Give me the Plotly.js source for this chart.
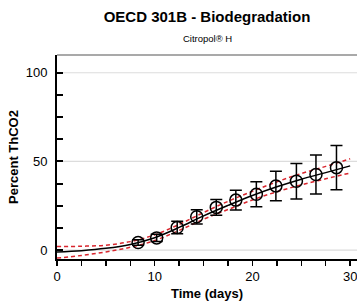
<!DOCTYPE html>
<html>
<head>
<meta charset="utf-8">
<script src="https://cdn.plot.ly/plotly-3.0.1.min.js"></script>
<style>html,body{margin:0;padding:0;background:#fff;}#chart{width:357px;height:303px;}</style>
</head>
<body>
<div id="chart"></div>
<script>
// Measured data (days, % ThCO2, SD)
const days = [8.3, 10.2, 12.3, 14.3, 16.3, 18.3, 20.4, 22.4, 24.5, 26.5, 28.6];
const pctThCO2 = [4.3, 6.9, 12.8, 18.8, 24.1, 28.2, 31.5, 36.2, 38.8, 42.6, 46.5];
const errSD = [1.5, 2, 3.5, 4, 4.4, 5.6, 7, 8.3, 10, 11, 12.5];

// Fitted curve and confidence band
const fitDays = [0, 2.5, 5, 7.5, 10, 12.5, 15, 17.5, 20, 22.5, 25, 27.5, 30];
const fitMid = [-1, -0.3, 1, 3.2, 7, 12.8, 19.3, 25.2, 30.8, 35.7, 40, 43.7, 47.5];
const fitUpper = [2, 2.2, 2.8, 4.8, 8.6, 14.5, 21.2, 27.5, 33.2, 38.5, 43.2, 47.2, 51.5];
const fitLower = [-4.5, -3, -1, 1.6, 5.4, 11.1, 17.4, 22.9, 28.3, 32.9, 36.8, 40.2, 43.5];

// Tick positions and labels
const xTickVals = [0, 2.5, 5, 7.5, 10, 12.5, 15, 17.5, 20, 22.5, 25, 27.5, 30];
const xTickText = ['0', '', '', '', '10', '', '', '', '20', '', '', '', '30'];
const yTickVals = [0, 12.5, 25, 37.5, 50, 62.5, 75, 87.5, 100];
const yTickText = ['0', '', '', '', '50', '', '', '', '100'];
const yGridVals = [0, 50, 100];

const FONT = 'Liberation Sans, Arial, Helvetica, sans-serif';
const red = '#d8262e';

const traces = [
  {x: fitDays, y: fitUpper, mode: 'lines', line: {color: red, width: 1.5, dash: '4px,3px', shape: 'spline'}, hoverinfo: 'skip'},
  {x: fitDays, y: fitLower, mode: 'lines', line: {color: red, width: 1.5, dash: '4px,3px', shape: 'spline'}, hoverinfo: 'skip'},
  {x: fitDays, y: fitMid, mode: 'lines', line: {color: '#000', width: 1.5, shape: 'spline'}},
  {x: days, y: pctThCO2, mode: 'markers',
   marker: {symbol: 'circle-open', size: 12, color: '#000', line: {width: 1.5, color: '#000'}},
   error_y: {type: 'data', array: errSD, visible: true, color: '#000', thickness: 1.5, width: 6}}
];

const gridShapes = yGridVals.map(v => ({type: 'line', layer: 'below', xref: 'paper', yref: 'y', x0: 0, x1: 1, y0: v, y1: v, line: {color: '#dcdcdc', width: 1.2}}));

const layout = {
  width: 357, height: 303,
  margin: {l: 57, r: 0, t: 55, b: 44},
  paper_bgcolor: '#fff', plot_bgcolor: '#fff',
  showlegend: false,
  font: {family: FONT, color: '#000'},
  title: {text: '<b>OECD 301B - Biodegradation</b>', font: {family: FONT, size: 15, color: '#000'},
          x: 207/357, xanchor: 'center', xref: 'container', y: 1 - 17/303, yref: 'container', yanchor: 'middle'},
  annotations: [{text: 'Citropol® H', xref: 'paper', yref: 'paper', x: 0.5, y: 1 + 17/204, xanchor: 'center', yanchor: 'middle', showarrow: false, font: {family: FONT, size: 9.5, color: '#000'}}],
  xaxis: {
    range: [0, 30.7], tickmode: 'array', tickvals: xTickVals, ticktext: xTickText,
    ticks: 'outside', ticklen: 5, tickwidth: 1.5, tickcolor: '#000',
    ticklabeloverflow: 'allow',
    showline: true, linecolor: '#000', linewidth: 1.5,
    showgrid: false, zeroline: false,
    tickfont: {family: FONT, size: 13, color: '#000'},
    title: {text: '<b>Time (days)</b>', font: {family: FONT, size: 13, color: '#000'}, standoff: 6},
    automargin: false, fixedrange: true
  },
  yaxis: {
    range: [-5, 110], tickmode: 'array', tickvals: yTickVals, ticktext: yTickText,
    ticks: 'inside', ticklen: 6, tickwidth: 2, tickcolor: '#000',
    showline: true, linecolor: '#000', linewidth: 2,
    showgrid: false, zeroline: false,
    tickfont: {family: FONT, size: 13, color: '#000'},
    ticklabelstandoff: 5,
    title: {text: '<b>Percent ThCO2</b>', font: {family: FONT, size: 13, color: '#000'}, standoff: 4},
    automargin: false, fixedrange: true
  },
  shapes: gridShapes.concat([{type: 'line', xref: 'paper', yref: 'paper', x0: 0, x1: 1, y0: 1, y1: 1, line: {color: '#555', width: 1.2}}])
};

Plotly.newPlot('chart', traces, layout, {displayModeBar: false, staticPlot: true});
</script>
</body>
</html>
